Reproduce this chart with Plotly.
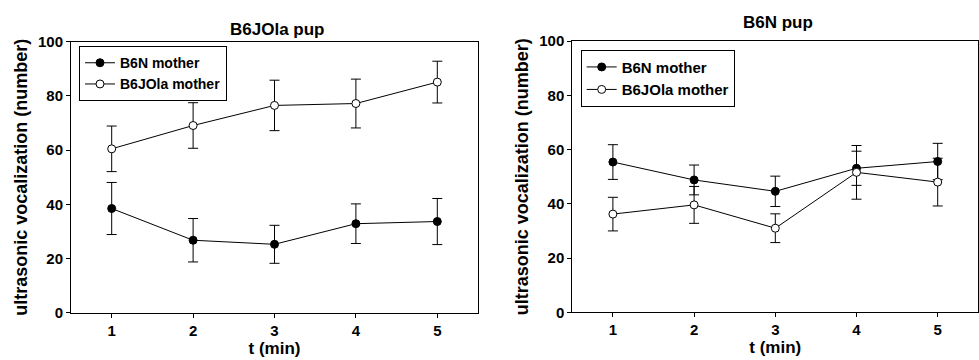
import plotly.graph_objects as go

t_min = [1, 2, 3, 4, 5]

# Left panel: B6JOla pup
left_b6n_mean = [38.5, 26.8, 25.3, 32.9, 33.7]
left_b6n_err = [9.6, 8.0, 7.0, 7.3, 8.5]
left_b6jola_mean = [60.5, 69.1, 76.5, 77.2, 85.1]
left_b6jola_err = [8.4, 8.4, 9.3, 9.0, 7.7]

# Right panel: B6N pup
right_b6n_mean = [55.4, 48.8, 44.6, 53.1, 55.6]
right_b6n_err = [6.4, 5.5, 5.6, 6.3, 6.7]
right_b6jola_mean = [36.2, 39.6, 31.0, 51.6, 48.0]
right_b6jola_err = [6.2, 6.8, 5.3, 9.9, 8.8]

panel_titles = ["B6JOla pup", "B6N pup"]
series_names = ["B6N mother", "B6JOla mother"]
y_ticks = [0, 20, 40, 60, 80, 100]

FONT = "Liberation Sans, Arial, sans-serif"
W, H = 979, 360

fig = go.Figure()


def add_series(x, y, err, name, filled, xa, ya, legend):
    fig.add_trace(go.Scatter(
        x=x, y=y, name=name, mode="lines+markers",
        xaxis=xa, yaxis=ya, legend=legend,
        line=dict(color="black", width=1),
        marker=dict(size=8, color="black" if filled else "white",
                    line=dict(color="black", width=1)),
        error_y=dict(type="data", array=err, visible=True,
                     color="black", thickness=1, width=5),
    ))


add_series(t_min, left_b6n_mean, left_b6n_err, series_names[0], True, "x", "y", "legend")
add_series(t_min, left_b6jola_mean, left_b6jola_err, series_names[1], False, "x", "y", "legend")
add_series(t_min, right_b6n_mean, right_b6n_err, series_names[0], True, "x2", "y2", "legend2")
add_series(t_min, right_b6jola_mean, right_b6jola_err, series_names[1], False, "x2", "y2", "legend2")

axis_common = dict(showgrid=False, zeroline=False, showline=True, mirror=True,
                   linecolor="black", linewidth=1, ticks="outside", ticklen=4,
                   tickwidth=1, tickcolor="black",
                   tickfont=dict(family=FONT, size=15, color="black", weight="bold"))

xcommon = dict(axis_common, range=[0.5, 5.5], tickvals=t_min,
               title=dict(text="t (min)", font=dict(family=FONT, size=17, color="black", weight="bold"), standoff=0))
ycommon = dict(axis_common, range=[0, 100], tickvals=y_ticks,
               title=dict(text="ultrasonic vocalization (number)", font=dict(family=FONT, size=18, color="black", weight="bold"), standoff=5))

fig.update_layout(
    width=W, height=H,
    margin=dict(l=0, r=0, t=0, b=0),
    paper_bgcolor="white", plot_bgcolor="white",
    showlegend=True,
    xaxis=dict(xcommon, domain=[71 / W, 478 / W], anchor="y"),
    yaxis=dict(ycommon, domain=[1 - 319 / H, 1 - 34.3 / H], anchor="x"),
    xaxis2=dict(xcommon, domain=[572.3 / W, 978.3 / W], anchor="y2"),
    yaxis2=dict(ycommon, domain=[1 - 318.3 / H, 1 - 33.7 / H], anchor="x2"),
    legend=dict(x=79 / W, y=1 - 39 / H, xanchor="left", yanchor="top",
                bordercolor="black", borderwidth=1, bgcolor="white",
                font=dict(family=FONT, size=14, color="black", weight="bold")),
    legend2=dict(x=580.7 / W, y=1 - 42.7 / H, xanchor="left", yanchor="top",
                 bordercolor="black", borderwidth=1, bgcolor="white",
                 font=dict(family=FONT, size=15, color="black", weight="bold")),
    annotations=[
        dict(text=panel_titles[0], x=277 / W, y=1 - 21 / H, xref="paper", yref="paper",
             showarrow=False, xanchor="center", yanchor="middle",
             font=dict(family=FONT, size=17, color="black", weight="bold")),
        dict(text=panel_titles[1], x=778 / W, y=1 - 14 / H, xref="paper", yref="paper",
             showarrow=False, xanchor="center", yanchor="middle",
             font=dict(family=FONT, size=17, color="black", weight="bold")),
    ],
)

fig.write_html("out.html")
